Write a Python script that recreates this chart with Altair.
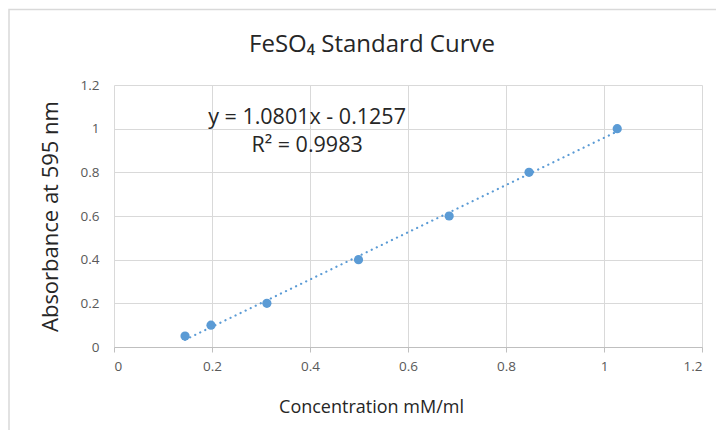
import altair as alt
import pandas as pd

# Data
conc = [0.145, 0.198, 0.312, 0.499, 0.684, 0.847, 1.027]
absorb = [0.05, 0.10, 0.20, 0.40, 0.60, 0.80, 1.00]

x_ticks = [0, 0.2, 0.4, 0.6, 0.8, 1.0, 1.2]
y_ticks = [0, 0.2, 0.4, 0.6, 0.8, 1.0, 1.2]

eq_lines = ["y = 1.0801x - 0.1257", "R² = 0.9983"]
eq_x = [0.394, 0.394]
eq_y = [1.049, 0.921]

title_text = "FeSO₄ Standard Curve"
x_title = "Concentration mM/ml"
y_title = "Absorbance at 595 nm"

FONT = "Open Sans"
BLUE = "#5B9BD5"

df = pd.DataFrame({"conc": conc, "abs": absorb})
eq_df = pd.DataFrame({"text": eq_lines, "x": eq_x, "y": eq_y})

x_scale = alt.Scale(domain=[0, 1.2], nice=False, zero=False)
y_scale = alt.Scale(domain=[0, 1.2], nice=False, zero=False)

x_axis = alt.Axis(
    values=x_ticks, format=".1~f", title=x_title,
    grid=True, gridColor="#D9D9D9", gridWidth=1,
    domain=True, domainColor="#BFBFBF", domainWidth=1,
    ticks=True, tickColor="#BFBFBF", tickSize=5,
    labelFont=FONT, labelFontSize=13.5, labelColor="#595959", labelPadding=7,
    titleFont=FONT, titleFontSize=18, titleFontWeight="normal", titleColor="#262626",
    titlePadding=26, titleX=257,
)
y_axis = alt.Axis(
    values=y_ticks, format=".1~f", title=y_title,
    grid=True, gridColor="#D9D9D9", gridWidth=1,
    domain=False, ticks=False,
    labelFont=FONT, labelFontSize=13.5, labelColor="#595959", labelPadding=15,
    titleFont=FONT, titleFontSize=22, titleFontWeight="normal", titleColor="#262626",
    titlePadding=18,
)

base = alt.Chart(df)

border = alt.Chart(pd.DataFrame({"a": [0]})).mark_rect(
    fill=None, stroke="#D9D9D9", strokeWidth=1.5
).encode(
    x=alt.value(-105), x2=alt.value(640), y=alt.value(-75.5), y2=alt.value(400)
)

title = alt.Chart(pd.DataFrame({"t": [title_text]})).mark_text(
    font=FONT, fontSize=24, color="#262626", align="center", baseline="middle"
).encode(
    x=alt.value(258), y=alt.value(-40), text="t:N"
)

trend = base.transform_regression("conc", "abs", method="linear").mark_line(
    color=BLUE, strokeWidth=2.2, strokeDash=[0.1, 5.5], strokeCap="round"
).encode(
    x=alt.X("conc:Q", scale=x_scale, axis=x_axis),
    y=alt.Y("abs:Q", scale=y_scale, axis=y_axis),
)

points = base.mark_circle(color=BLUE, size=85, opacity=1).encode(
    x=alt.X("conc:Q", scale=x_scale),
    y=alt.Y("abs:Q", scale=y_scale),
)

eq = alt.Chart(eq_df).mark_text(
    font=FONT, fontSize=21.5, color="#262626", align="center", baseline="middle"
).encode(
    x=alt.X("x:Q", scale=x_scale),
    y=alt.Y("y:Q", scale=y_scale),
    text="text:N",
)

chart = alt.layer(border, title, trend, points, eq).properties(
    width=588,
    height=262,
    autosize=alt.AutoSizeParams(type="none"),
    padding={"left": 106, "top": 77, "right": 14, "bottom": 83},
).configure_view(stroke=None)

chart.save("out.html", embed_options={"renderer": "svg", "actions": False})
